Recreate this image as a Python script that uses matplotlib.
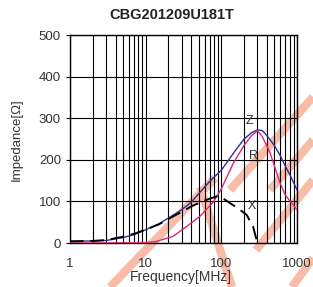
import matplotlib
matplotlib.use("Agg")
import matplotlib.pyplot as plt
from matplotlib.lines import Line2D

plt.rcParams["font.family"] = ["Liberation Sans", "DejaVu Sans"]

# data
freq_z = [1, 2, 3, 5, 7, 10, 15, 20, 30, 40, 50, 70, 100, 150, 200, 250, 300, 350, 400, 500, 600, 700, 800, 1000]
imp_z = [4, 5, 6, 13, 20, 32, 46, 60, 80, 98, 118, 148, 175, 220, 250, 265, 272, 270, 258, 235, 210, 185, 165, 128]

freq_r = [1, 3, 10, 14, 23, 35, 52, 78, 100, 144, 200, 250, 300, 350, 440, 595, 700, 1000]
imp_r = [0, 0, 1, 4, 16, 40, 64, 98, 130, 192, 235, 258, 270, 255, 217, 145, 115, 80]

freq_x = [1, 2, 3, 5, 7, 10, 15, 20, 30, 40, 60, 86, 100, 130, 170, 215, 262, 300, 330]
imp_x = [4, 5, 7, 15, 22, 32, 45, 58, 75, 88, 102, 112, 110, 96, 82, 68, 40, 0, -20]

yticks = [0, 100, 200, 300, 400, 500]
xticks = [1, 10, 100, 1000]

W, H = 313, 287
fig = plt.figure(figsize=(W/100, H/100), dpi=100)
ax = fig.add_axes([70/W, 1-243/H, 227/W, 208/H])

# faint watermark strokes behind the chart (pixel coords)
strokes = [
    [(110, 287), (215, 178)],
    [(200, 187), (232, 287)],
    [(256, 250), (313, 180)],
    [(230, 190), (313, 97)],
    [(270, 190), (313, 140)],
    [(292, 287), (313, 258)],
]
for pts in strokes:
    xs = [p[0]/W for p in pts]
    ys = [1-p[1]/H for p in pts]
    fig.add_artist(Line2D(xs, ys, transform=fig.transFigure, color="#f8bca9",
                          lw=6, zorder=0, solid_capstyle="butt"))
ax.set_facecolor("none")

ax.plot(freq_z, imp_z, color="#2e2e9e", lw=1.0, zorder=3)
ax.plot(freq_r, imp_r, color="#e0287a", lw=1.0, zorder=3)
ax.plot(freq_x, imp_x, color="black", lw=1.4, dashes=(7, 3.5), zorder=4)

ax.set_xscale("log")
ax.set_xlim(1, 1000)
ax.set_ylim(0, 500)
ax.set_yticks(yticks)
ax.set_xticks(xticks)
ax.set_xticklabels(["1", "10", "100", "1000"])
ax.grid(True, which="both", color="black", lw=0.8)
ax.tick_params(axis="both", which="both", labelsize=9.5, labelcolor="#333333", length=3, width=0.8)
ax.tick_params(axis="x", which="minor", length=0)
ax.tick_params(axis="x", which="major", length=0, pad=11)
for s in ax.spines.values():
    s.set_linewidth(1.0)

ax.text(238, 293, "Z", fontsize=9, color="#333333", ha="center", va="center")
ax.text(264, 210, "R", fontsize=9, color="#333333", ha="center", va="center")
ax.text(250, 88, "X", fontsize=9, color="#333333", ha="center", va="center")

fig.text(172/W, 1-15/H, "CBG201209U181T", fontsize=10.5, fontweight="bold",
         color="#222222", ha="center", va="center")
fig.text(181/W, 1-277/H, "Frequency[MHz]", fontsize=10, color="#333333", ha="center", va="center")
fig.text(17/W, 1-140/H, "Impedance[Ω]", fontsize=9.5, color="#333333", ha="center", va="center",
         rotation=90)

fig.savefig("out.png", dpi=100)
